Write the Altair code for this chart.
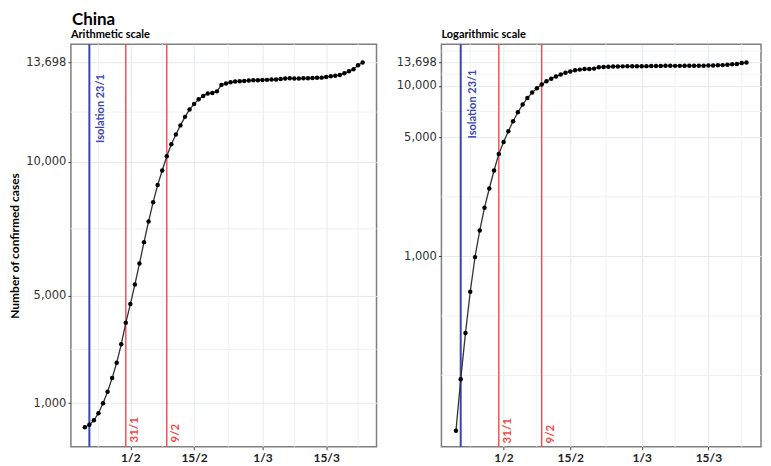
import altair as alt
import pandas as pd

# ---------------- data ----------------
start_date = "2020-01-22"
cases = [95, 190, 355, 620, 990, 1420, 1930, 2500, 3190, 3990,
         4690, 5420, 6200, 7000, 7770, 8490, 9130, 9670, 10200, 10650,
         11014, 11354, 11672, 11950, 12148, 12331, 12452, 12540, 12560, 12623,
         12865, 12916, 12960, 12987, 13000, 13012, 13025, 13037, 13040, 13049,
         13052, 13062, 13066, 13086, 13105, 13110, 13100, 13100, 13110, 13115,
         13123, 13128, 13135, 13159, 13184, 13209, 13235, 13300, 13370, 13450,
         13600, 13698]

event_dates = ["2020-01-23", "2020-01-31", "2020-02-09"]
event_labels = ["Isolation 23/1", "31/1", "9/2"]
event_kinds = ["isolation", "measure", "measure"]

x_tick_dates = ["2020-02-01", "2020-02-15", "2020-03-01", "2020-03-15"]
x_minor_dates = ["2020-01-25T00:00:00Z", "2020-02-08T00:00:00Z", "2020-02-22T12:00:00Z",
                 "2020-03-08T00:00:00Z", "2020-03-22T00:00:00Z"]
x_limits = ["2020-01-18T22:48:00Z", "2020-03-26T01:12:00Z"]

y_ticks = [1000, 5000, 10000, 13698]
y_minor_arith = [3000, 7500, 11849]
y_minor_log = [200, 447, 2236, 7071, 11704, 16032]
y_limits_arith = [-630, 14380]
y_limits_log = [76.5, 17540]

iso_label_value = {"arith": 10700, "log": 4920}
measure_label_value = {"arith": -470, "log": 80}

# ---------------- frames ----------------
dates = pd.date_range(start_date, periods=len(cases), freq="D").strftime("%Y-%m-%d").tolist()
df = pd.DataFrame({"date": dates, "value": cases})
df_events = pd.DataFrame({"date": event_dates, "label": event_labels, "kind": event_kinds})
df_xminor = pd.DataFrame({"date": x_minor_dates})


def dt(s):
    t = pd.Timestamp(s)
    return alt.DateTime(year=t.year, month=t.month, date=t.day, hours=t.hour,
                        minutes=t.minute, utc=True)


x_tick_vals = [dt(s) for s in x_tick_dates]
x_domain = [dt(s) for s in x_limits]

BLUE = "#3a45b0"
RED = "#f04848"
MAJOR_GRID = "#e4e8ee"
MINOR_GRID = "#eef1f5"
H = 403


def panel(key, yscale, ytitle, minor_y, width, subtitle):
    def X():
        return alt.X("date:T", scale=alt.Scale(type="utc", domain=x_domain, nice=False),
                     axis=alt.Axis(values=x_tick_vals,
                                   labelExpr="utcFormat(datum.value, '%-d/%-m')",
                                   title=None, grid=True))

    def Y():
        return alt.Y("value:Q", scale=yscale,
                     axis=alt.Axis(values=y_ticks, format=",d", title=ytitle,
                                   labelOverlap=False, grid=True))

    vgrid = alt.Chart(df_xminor).mark_rule(color=MINOR_GRID, strokeWidth=1).encode(x=X())
    hgrid = alt.Chart(pd.DataFrame({"value": minor_y})).mark_rule(
        color=MINOR_GRID, strokeWidth=1).encode(y=Y())

    iso_rule = alt.Chart(df_events).transform_filter(
        alt.datum.kind == "isolation").mark_rule(color=BLUE, strokeWidth=2).encode(x=X())
    meas_rule = alt.Chart(df_events).transform_filter(
        alt.datum.kind == "measure").mark_rule(color=RED, strokeWidth=1.4).encode(x=X())

    line = alt.Chart(df).mark_line(color="#333333", strokeWidth=1.3).encode(x=X(), y=Y())
    pts = alt.Chart(df).mark_circle(color="black", size=20, opacity=1).encode(x=X(), y=Y())

    iso_df = df_events[df_events.kind == "isolation"].assign(value=iso_label_value[key])
    meas_df = df_events[df_events.kind == "measure"].assign(value=measure_label_value[key])

    iso_text = alt.Chart(iso_df).mark_text(
        angle=270, align="left", baseline="top", dy=6, font="Lato", fontWeight="bold",
        fontSize=11, color=BLUE).encode(x=X(), y=Y(), text="label:N")
    meas_text = alt.Chart(meas_df).mark_text(
        angle=270, align="left", baseline="top", dy=3, font="Lato", fontWeight="bold",
        fontSize=11.5, color=RED).encode(x=X(), y=Y(), text="label:N")

    return alt.layer(vgrid, hgrid, iso_rule, meas_rule, line, pts, iso_text, meas_text).properties(
        width=width, height=H,
        title=alt.TitleParams(subtitle, anchor="start", frame="group", font="Lato",
                              fontSize=11, fontWeight="bold", color="black", offset=3))


left = panel("arith",
             alt.Scale(type="linear", domain=y_limits_arith, nice=False, zero=False),
             "Number of confirmed cases", y_minor_arith, 306, "Arithmetic scale")
right = panel("log",
              alt.Scale(type="log", domain=y_limits_log, nice=False),
              None, y_minor_log, 320, "Logarithmic scale")

chart = alt.hconcat(left, right, spacing=17).properties(
    padding={"top": 2, "left": 0, "right": 0, "bottom": 0},
    background="white",
    title=alt.TitleParams("China", anchor="start", dx=64, font="Lato", fontSize=17,
                          fontWeight="bold", color="black", offset=0),
).configure_view(
    stroke="#7f7f7f", strokeWidth=1.5
).configure_axisX(
    labelFont="Lato", labelFontWeight="bold", labelFontSize=12, labelColor="#222222",
    tickSize=3, tickColor="#444444", labelPadding=3, domain=False,
    gridColor=MAJOR_GRID, gridWidth=1
).configure_axisY(
    labelFont="DejaVu Sans", labelFontSize=11.5, labelColor="#333333",
    tickSize=3, tickColor="#444444", labelPadding=2, domain=False,
    gridColor=MAJOR_GRID, gridWidth=1,
    titleFont="Lato", titleFontWeight="bold", titleFontSize=12, titleColor="black",
    titlePadding=4
)

chart.save("out.html", embed_options={"renderer": "svg", "actions": False})
